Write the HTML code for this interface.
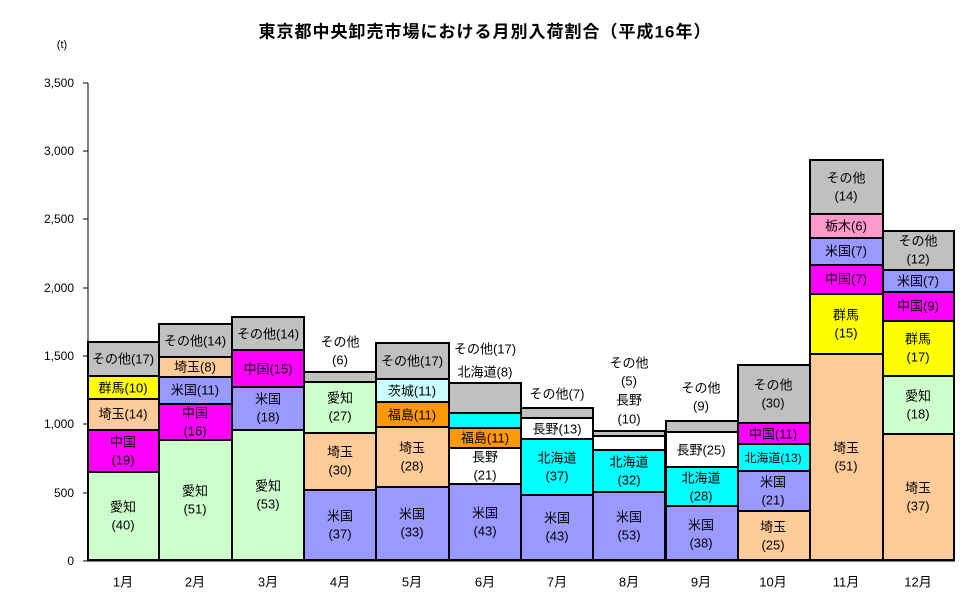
<!DOCTYPE html>
<html><head><meta charset="utf-8"><style>
html,body{margin:0;padding:0;background:#fff;}
svg{display:block;font-family:"Liberation Sans","Noto Sans CJK JP",sans-serif;}
text{font-size:13px;text-anchor:middle;dominant-baseline:central;fill:#000;}
.r{text-anchor:end;font-size:12px;}
rect{stroke:#000;stroke-width:2;}
</style></head><body>
<svg width="970" height="604" viewBox="0 0 970 604">
<text x="485" y="32" style="font-size:17px;font-weight:bold;letter-spacing:1px">東京都中央卸売市場における月別入荷割合（平成16年）</text>
<text x="62" y="45" style="font-size:11px">(t)</text>
<g>
<text class="r" x="74" y="561">0</text>
<text class="r" x="74" y="493">500</text>
<text class="r" x="74" y="424">1,000</text>
<text class="r" x="74" y="356">1,500</text>
<text class="r" x="74" y="288">2,000</text>
<text class="r" x="74" y="219">2,500</text>
<text class="r" x="74" y="151">3,000</text>
<text class="r" x="74" y="83">3,500</text>
</g>
<path d="M88 83V561H955M83 83H88M83 151H88M83 219H88M83 288H88M83 356H88M83 424H88M83 493H88M83 561H88" stroke="#000" stroke-width="1" fill="none"/>

<!-- Jan -->
<rect x="88" y="342" width="71" height="34" fill="#C0C0C0"/><text x="123" y="359">その他(17)</text>
<rect x="88" y="376" width="71" height="23" fill="#FFFF00"/><text x="123" y="388">群馬(10)</text>
<rect x="88" y="399" width="71" height="31" fill="#FFCC99"/><text x="123" y="414">埼玉(14)</text>
<rect x="88" y="430" width="71" height="42" fill="#FF00FF"/><text x="123" y="442">中国</text><text x="123" y="460">(19)</text>
<rect x="88" y="472" width="71" height="88" fill="#CCFFCC"/><text x="123" y="507">愛知</text><text x="123" y="525">(40)</text>
<!-- Feb -->
<rect x="159" y="324" width="73" height="33" fill="#C0C0C0"/><text x="195" y="341">その他(14)</text>
<rect x="159" y="357" width="73" height="20" fill="#FFCC99"/><text x="195" y="367">埼玉(8)</text>
<rect x="159" y="377" width="73" height="27" fill="#9999FF"/><text x="195" y="390">米国(11)</text>
<rect x="159" y="404" width="73" height="36" fill="#FF00FF"/><text x="195" y="413">中国</text><text x="195" y="431">(16)</text>
<rect x="159" y="440" width="73" height="120" fill="#CCFFCC"/><text x="195" y="491">愛知</text><text x="195" y="509">(51)</text>
<!-- Mar -->
<rect x="232" y="317" width="72" height="33" fill="#C0C0C0"/><text x="268" y="334">その他(14)</text>
<rect x="232" y="350" width="72" height="37" fill="#FF00FF"/><text x="268" y="369">中国(15)</text>
<rect x="232" y="387" width="72" height="43" fill="#9999FF"/><text x="268" y="399">米国</text><text x="268" y="417">(18)</text>
<rect x="232" y="430" width="72" height="130" fill="#CCFFCC"/><text x="268" y="486">愛知</text><text x="268" y="504">(53)</text>
<!-- Apr -->
<text x="340" y="342">その他</text><text x="340" y="360">(6)</text>
<rect x="304" y="372" width="72" height="10" fill="#C0C0C0"/>
<rect x="304" y="382" width="72" height="51" fill="#CCFFCC"/><text x="340" y="398">愛知</text><text x="340" y="416">(27)</text>
<rect x="304" y="433" width="72" height="57" fill="#FFCC99"/><text x="340" y="452">埼玉</text><text x="340" y="470">(30)</text>
<rect x="304" y="490" width="72" height="70" fill="#9999FF"/><text x="340" y="516">米国</text><text x="340" y="534">(37)</text>
<!-- May -->
<rect x="376" y="343" width="73" height="36" fill="#C0C0C0"/><text x="412" y="361">その他(17)</text>
<rect x="376" y="379" width="73" height="23" fill="#CCFFFF"/><text x="412" y="391">茨城(11)</text>
<rect x="376" y="402" width="73" height="25" fill="#FF9900"/><text x="412" y="415">福島(11)</text>
<rect x="376" y="427" width="73" height="60" fill="#FFCC99"/><text x="412" y="448">埼玉</text><text x="412" y="466">(28)</text>
<rect x="376" y="487" width="73" height="73" fill="#9999FF"/><text x="412" y="514">米国</text><text x="412" y="532">(33)</text>
<!-- Jun -->
<text x="485" y="349">その他(17)</text><text x="485" y="372">北海道(8)</text>
<rect x="449" y="383" width="72" height="30" fill="#C0C0C0"/>
<rect x="449" y="413" width="72" height="15" fill="#00FFFF"/>
<rect x="449" y="428" width="72" height="20" fill="#FF9900"/><text x="485" y="438">福島(11)</text>
<rect x="449" y="448" width="72" height="36" fill="#FFFFFF"/><text x="485" y="457">長野</text><text x="485" y="475">(21)</text>
<rect x="449" y="484" width="72" height="76" fill="#9999FF"/><text x="485" y="513">米国</text><text x="485" y="531">(43)</text>
<!-- Jul -->
<text x="557" y="394">その他(7)</text>
<rect x="521" y="408" width="72" height="10" fill="#C0C0C0"/>
<rect x="521" y="418" width="72" height="21" fill="#FFFFFF"/><text x="557" y="429">長野(13)</text>
<rect x="521" y="439" width="72" height="56" fill="#00FFFF"/><text x="557" y="458">北海道</text><text x="557" y="476">(37)</text>
<rect x="521" y="495" width="72" height="65" fill="#9999FF"/><text x="557" y="518">米国</text><text x="557" y="536">(43)</text>
<!-- Aug -->
<text x="629" y="363">その他</text><text x="629" y="381">(5)</text><text x="629" y="400">長野</text><text x="629" y="419">(10)</text>
<rect x="593" y="431" width="72" height="5" fill="#C0C0C0"/>
<rect x="593" y="436" width="72" height="14" fill="#FFFFFF"/>
<rect x="593" y="450" width="72" height="42" fill="#00FFFF"/><text x="629" y="462">北海道</text><text x="629" y="480">(32)</text>
<rect x="593" y="492" width="72" height="68" fill="#9999FF"/><text x="629" y="517">米国</text><text x="629" y="535">(53)</text>
<!-- Sep -->
<text x="701" y="388">その他</text><text x="701" y="406">(9)</text>
<rect x="666" y="421" width="72" height="11" fill="#C0C0C0"/>
<rect x="666" y="432" width="72" height="35" fill="#FFFFFF"/><text x="701" y="450">長野(25)</text>
<rect x="666" y="467" width="72" height="39" fill="#00FFFF"/><text x="701" y="478">北海道</text><text x="701" y="496">(28)</text>
<rect x="666" y="506" width="72" height="54" fill="#9999FF"/><text x="701" y="525">米国</text><text x="701" y="543">(38)</text>
<!-- Oct -->
<rect x="738" y="365" width="72" height="58" fill="#C0C0C0"/><text x="773" y="385">その他</text><text x="773" y="403">(30)</text>
<rect x="738" y="423" width="72" height="21" fill="#FF00FF"/><text x="773" y="434">中国(11)</text>
<rect x="738" y="444" width="72" height="27" fill="#00FFFF"/><text x="773" y="458" style="font-size:12px">北海道(13)</text>
<rect x="738" y="471" width="72" height="40" fill="#9999FF"/><text x="773" y="482">米国</text><text x="773" y="500">(21)</text>
<rect x="738" y="511" width="72" height="49" fill="#FFCC99"/><text x="773" y="527">埼玉</text><text x="773" y="545">(25)</text>
<!-- Nov -->
<rect x="810" y="160" width="73" height="54" fill="#C0C0C0"/><text x="846" y="178">その他</text><text x="846" y="196">(14)</text>
<rect x="810" y="214" width="73" height="24" fill="#FF99CC"/><text x="846" y="226">栃木(6)</text>
<rect x="810" y="238" width="73" height="27" fill="#9999FF"/><text x="846" y="251">米国(7)</text>
<rect x="810" y="265" width="73" height="29" fill="#FF00FF"/><text x="846" y="279">中国(7)</text>
<rect x="810" y="294" width="73" height="60" fill="#FFFF00"/><text x="846" y="315">群馬</text><text x="846" y="333">(15)</text>
<rect x="810" y="354" width="73" height="206" fill="#FFCC99"/><text x="846" y="448">埼玉</text><text x="846" y="466">(51)</text>
<!-- Dec -->
<rect x="883" y="231" width="71" height="39" fill="#C0C0C0"/><text x="918" y="241">その他</text><text x="918" y="259">(12)</text>
<rect x="883" y="270" width="71" height="22" fill="#9999FF"/><text x="918" y="281">米国(7)</text>
<rect x="883" y="292" width="71" height="29" fill="#FF00FF"/><text x="918" y="306">中国(9)</text>
<rect x="883" y="321" width="71" height="55" fill="#FFFF00"/><text x="918" y="339">群馬</text><text x="918" y="357">(17)</text>
<rect x="883" y="376" width="71" height="58" fill="#CCFFCC"/><text x="918" y="396">愛知</text><text x="918" y="414">(18)</text>
<rect x="883" y="434" width="71" height="126" fill="#FFCC99"/><text x="918" y="488">埼玉</text><text x="918" y="506">(37)</text>

<g style="font-size:12px">
<text x="123" y="582">1月</text><text x="195" y="582">2月</text><text x="268" y="582">3月</text>
<text x="340" y="582">4月</text><text x="412" y="582">5月</text><text x="485" y="582">6月</text>
<text x="557" y="582">7月</text><text x="629" y="582">8月</text><text x="701" y="582">9月</text>
<text x="773" y="582">10月</text><text x="846" y="582">11月</text><text x="918" y="582">12月</text>
</g>
</svg>
</body></html>
